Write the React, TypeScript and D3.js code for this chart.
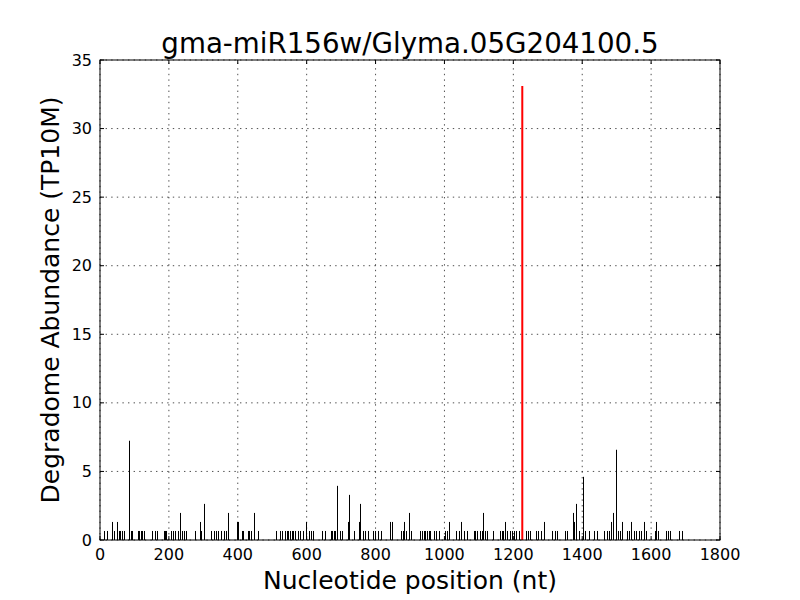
import React from "react";
import * as d3 from "d3";

const TITLE = "gma-miR156w/Glyma.05G204100.5";
const X_LABEL = "Nucleotide position (nt)";
const Y_LABEL = "Degradome Abundance (TP10M)";
const X_TICKS = [0, 200, 400, 600, 800, 1000, 1200, 1400, 1600, 1800];
const Y_TICKS = [0, 5, 10, 15, 20, 25, 30, 35];

// unit abundance for one read (TP10M)
const UNIT = 0.658;

// positions (nt) of background degradome peaks
const positions = [
  12, 20, 35, 40, 49, 55, 59, 64, 69, 83, 89, 94, 110, 114, 118, 123, 127, 152, 159, 166,
  186, 190, 193, 205, 212, 219, 225, 233, 238, 244, 251, 275, 289, 294, 302, 323, 331, 338, 344, 352,
  359, 366, 373, 397, 400, 411, 416, 429, 433, 438, 448, 460, 510, 523, 529, 537, 542, 547, 552, 556,
  561, 566, 576, 581, 588, 599, 607, 613, 619, 645, 653, 671, 674, 678, 682, 689, 697, 702, 721, 724,
  736, 751, 756, 763, 768, 777, 792, 798, 807, 817, 843, 848, 875, 879, 884, 888, 898, 904, 930, 935,
  940, 944, 949, 954, 959, 969, 975, 985, 1003, 1008, 1014, 1034, 1041, 1049, 1056, 1066, 1085, 1090, 1095, 1104,
  1108, 1112, 1118, 1124, 1141, 1160, 1166, 1170, 1176, 1183, 1190, 1195, 1202, 1209, 1215, 1236, 1242, 1248, 1267, 1272,
  1280, 1289, 1313, 1321, 1328, 1350, 1357, 1372, 1376, 1381, 1391, 1402, 1408, 1420, 1434, 1444, 1463, 1473, 1479, 1484,
  1489, 1498, 1503, 1510, 1516, 1529, 1535, 1543, 1550, 1556, 1566, 1571, 1578, 1585, 1610, 1614, 1621, 1642, 1648, 1655,
  1680, 1690,
];
// read counts at those positions
const reads = [
  1, 1, 2, 1, 2, 1, 1, 1, 1, 11, 1, 1, 1, 1, 1, 1, 1, 1, 1, 1,
  1, 1, 1, 1, 1, 1, 1, 3, 1, 1, 1, 1, 2, 1, 4, 1, 1, 1, 1, 1,
  1, 1, 3, 2, 2, 1, 1, 1, 1, 1, 3, 1, 1, 1, 1, 1, 1, 1, 1, 1,
  1, 1, 1, 1, 1, 2, 1, 1, 1, 1, 1, 1, 1, 1, 1, 6, 1, 1, 2, 5,
  1, 2, 4, 1, 1, 1, 1, 1, 1, 1, 2, 2, 1, 1, 2, 1, 3, 1, 1, 1,
  1, 1, 1, 1, 1, 1, 1, 1, 1, 1, 2, 1, 1, 2, 1, 1, 1, 1, 1, 1,
  1, 3, 1, 1, 1, 1, 1, 1, 2, 1, 1, 1, 1, 1, 1, 1, 1, 1, 1, 1,
  1, 2, 1, 1, 1, 1, 1, 3, 2, 4, 1, 7, 1, 1, 1, 1, 1, 1, 1, 2,
  3, 10, 1, 1, 2, 1, 1, 2, 1, 1, 1, 1, 2, 1, 1, 2, 1, 1, 1, 1,
  1, 1,
];

// miRNA cleavage site
const targetPos = [1226];
const targetVal = [33.1];

export default function App() {
  const W = 800, H = 600;
  const m = { left: 100, right: 80, top: 60, bottom: 60 };
  const x = d3.scaleLinear().domain([0, 1800]).range([m.left, W - m.right]);
  const y = d3.scaleLinear().domain([0, 35]).range([H - m.bottom, m.top]);
  const font = "DejaVu Sans, sans-serif";
  const tickLen = 4;
  const x0 = x(0), x1 = x(1800), y0 = y(0), y1 = y(35);

  return (
    <svg width={W} height={H} style={{ position: "absolute", left: 0, top: 0, background: "#fff" }} fontFamily={font}>
      <rect x={0} y={0} width={W} height={H} fill="#fff" />
      {/* grid */}
      {X_TICKS.map((t) => (
        <line key={"gx" + t} x1={x(t)} x2={x(t)} y1={y0} y2={y1} stroke="#000" strokeWidth={0.7} strokeDasharray="1.4,4.2" />
      ))}
      {Y_TICKS.map((t) => (
        <line key={"gy" + t} x1={x0} x2={x1} y1={y(t)} y2={y(t)} stroke="#000" strokeWidth={0.7} strokeDasharray="1.4,4.2" />
      ))}
      {/* bars */}
      {positions.map((p, i) => (
        <line key={"b" + i} x1={Math.round(x(p)) + 0.5} x2={Math.round(x(p)) + 0.5} y1={y0} y2={y(reads[i] * UNIT)} stroke="#000" strokeWidth={1} />
      ))}
      {targetPos.map((p, i) => (
        <line key={"r" + i} x1={x(p)} x2={x(p)} y1={y0} y2={y(targetVal[i])} stroke="#ff0000" strokeWidth={2} />
      ))}
      {/* frame */}
      <rect x={x0} y={y1} width={x1 - x0} height={y0 - y1} fill="none" stroke="#000" strokeWidth={1} />
      {/* ticks */}
      {X_TICKS.map((t) => (
        <g key={"tx" + t}>
          <line x1={x(t)} x2={x(t)} y1={y0} y2={y0 - tickLen} stroke="#000" />
          <line x1={x(t)} x2={x(t)} y1={y1} y2={y1 + tickLen} stroke="#000" />
          <text x={x(t)} y={y0 + 20} fontSize={16} textAnchor="middle">{t}</text>
        </g>
      ))}
      {Y_TICKS.map((t) => (
        <g key={"ty" + t}>
          <line x1={x0} x2={x0 + tickLen} y1={y(t)} y2={y(t)} stroke="#000" />
          <line x1={x1} x2={x1 - tickLen} y1={y(t)} y2={y(t)} stroke="#000" />
          <text x={x0 - 8} y={y(t)} fontSize={16} textAnchor="end" dominantBaseline="central">{t}</text>
        </g>
      ))}
      <text x={(x0 + x1) / 2} y={53} fontSize={27.7} textAnchor="middle">{TITLE}</text>
      <text x={(x0 + x1) / 2} y={589} fontSize={25} textAnchor="middle">{X_LABEL}</text>
      <text transform={`translate(59,${(y0 + y1) / 2}) rotate(-90)`} fontSize={25} textAnchor="middle">{Y_LABEL}</text>
    </svg>
  );
}
